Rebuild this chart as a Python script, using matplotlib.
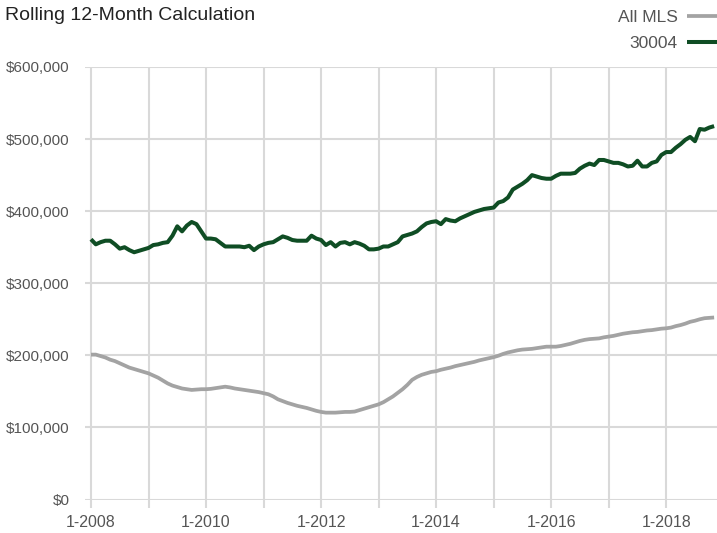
import numpy as np
import matplotlib.pyplot as plt
from matplotlib import font_manager

names = {f.name for f in font_manager.fontManager.ttflist}
base_font = 'Liberation Sans Narrow' if 'Liberation Sans Narrow' in names else 'Liberation Sans'
plt.rcParams['font.family'] = [base_font, 'DejaVu Sans']

# monthly rolling 12-month values, Jan 2008 .. Nov 2018 (thousands of $)
zip_30004 = [
    361, 354, 357, 359, 359, 354, 348, 350, 346, 343, 345, 347,
    349, 353, 354, 356, 357, 366, 379, 372, 380, 385, 382, 372,
    362, 362, 361, 356, 351, 351, 351, 351, 350, 352, 346, 351,
    354, 356, 357, 361, 365, 363, 360, 359, 359, 359, 366, 362,
    360, 353, 357, 351, 356, 357, 354, 357, 355, 352, 347, 347,
    348, 351, 351, 354, 357, 365, 367, 369, 372, 378, 383, 385,
    386, 382, 389, 387, 386, 390, 393, 396, 399, 401, 403, 404,
    405, 412, 414, 419, 430, 434, 438, 443, 450, 448, 446, 445,
    445, 449, 452, 452, 452, 453, 459, 463, 466, 464, 471, 471,
    469, 467, 467, 465, 462, 463, 470, 462, 462, 467, 469, 478,
    482, 482, 488, 493, 499, 503, 497, 514, 513, 516, 518,
]
all_mls = [
    201, 201, 199, 197, 194, 192, 189, 186, 183, 181, 179, 177,
    175, 172, 169, 165, 161, 158, 156, 154, 153, 152, 152.5, 153,
    153, 153.5, 154.5, 155.5, 156.5, 155.5, 154, 153, 152, 151, 150, 149,
    147.5, 146, 143, 139, 136.5, 134, 132, 130, 128.5, 127, 125, 123,
    121.5, 120.5, 120.5, 120.5, 121, 121.5, 121.5, 122, 124, 126, 128, 130,
    132, 135, 139, 143, 148, 153, 159, 166, 170, 173, 175, 177,
    178, 180, 181.5, 183, 185, 186.5, 188, 189.5, 191, 193, 194.5, 196,
    197.5, 199.5, 202, 204, 205.5, 207, 208, 208.5, 209, 210, 211, 212,
    212, 212, 213, 214.5, 216, 218, 220, 221.5, 222.5, 223, 223.5, 225,
    226, 227, 228.5, 230, 231, 232, 232.5, 233.5, 234.5, 235, 236, 237,
    237.5, 238.5, 240.5, 242, 244, 246.5, 248, 250, 251.5, 252, 252.5,
]
year_labels = ['1-2008', '', '1-2010', '', '1-2012', '', '1-2014', '', '1-2016', '', '1-2018']
y_ticks = [0, 100000, 200000, 300000, 400000, 500000, 600000]

months = np.arange(len(zip_30004))
green = '#0f4d24'
gray = '#a3a3a3'
grid_c = '#d9d9d9'

fig = plt.figure(figsize=(7.17, 5.33), dpi=100)
ax = fig.add_axes([85 / 717, 33.5 / 533, 632 / 717, 432.5 / 533])

ax.plot(months, np.array(all_mls) * 1000, color=gray, lw=2.7, label='All MLS', solid_capstyle='butt')
ax.plot(months, np.array(zip_30004) * 1000, color=green, lw=2.9, label='30004', solid_capstyle='butt')

ax.set_xlim(-1.25, 130.6)
ax.set_ylim(0, 600000)
ax.set_xticks(np.arange(0, 121, 12))
ax.set_xticklabels(year_labels)
ax.set_yticks(y_ticks)
ax.set_yticklabels(['$' + format(v, ',') for v in y_ticks])

ax.grid(True, color=grid_c, lw=1.5)
ax.set_axisbelow(True)
for s in ax.spines.values():
    s.set_visible(False)
ax.tick_params(axis='x', length=6, width=1.5, color=grid_c, labelsize=11.5, pad=5)
ax.tick_params(axis='y', length=0, labelsize=11, pad=11)
for t in ax.get_xticklabels() + ax.get_yticklabels():
    t.set_color('#555555')

fig.text(5 / 717, 1 - 15 / 533, 'Rolling 12-Month Calculation', fontsize=14, color='#222222', va='center', ha='left')

leg = ax.legend(loc='upper right', bbox_to_anchor=(1.0, 1 - 10 / 533), bbox_transform=fig.transFigure,
                frameon=False, markerfirst=False, fontsize=12.5, handlelength=1.7, handletextpad=0.55,
                labelspacing=0.62, borderaxespad=0, borderpad=0)
for t in leg.get_texts():
    t.set_color('#555555')

plt.savefig('out.png', dpi=100)
